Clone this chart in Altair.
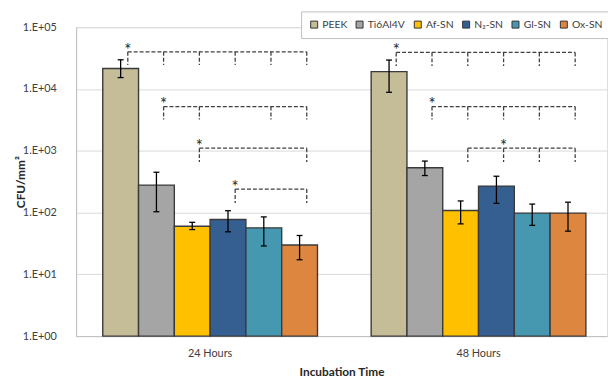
import altair as alt
import pandas as pd

# ---------------- data ----------------
groups = ["24 Hours", "48 Hours"]
series = ["PEEK", "Ti6Al4V", "Af-SN", "N₂-SN", "Gl-SN", "Ox-SN"]
colors = ["#C4BD97", "#A5A5A5", "#FFC000", "#365F91", "#4598B0", "#DD8640"]

mean_24 = [21500, 278, 60, 77, 56.5, 29.8]
low_24 = [15300, 103, 53, 48.8, 28.8, 17.2]
high_24 = [29700, 449, 69.5, 107, 85, 42.5]

mean_48 = [19100, 532, 108, 268, 98, 98]
low_48 = [8840, 397, 65.5, 141, 62, 50]
high_48 = [29400, 681, 154, 387, 137, 147]

# significance brackets
br_group = ["24 Hours", "24 Hours", "24 Hours", "24 Hours", "48 Hours", "48 Hours", "48 Hours"]
br_top = [40000, 5200, 1100, 240, 39000, 5200, 1100]
br_bottom = [24500, 3200, 660, 143, 23500, 3200, 660]
br_members = [
    ["PEEK", "Ti6Al4V", "Af-SN", "N₂-SN", "Gl-SN", "Ox-SN"],
    ["Ti6Al4V", "Af-SN", "Gl-SN", "Ox-SN"],
    ["Af-SN", "Ox-SN"],
    ["N₂-SN", "Ox-SN"],
    ["PEEK", "Ti6Al4V", "Af-SN", "N₂-SN", "Gl-SN", "Ox-SN"],
    ["Ti6Al4V", "Af-SN", "N₂-SN", "Gl-SN", "Ox-SN"],
    ["Af-SN", "N₂-SN", "Gl-SN", "Ox-SN"],
]
br_star = ["PEEK", "Ti6Al4V", "Af-SN", "N₂-SN", "PEEK", "Ti6Al4V", "N₂-SN"]

# ---------------- layout constants ----------------
W, H = 538, 313
PAD_INNER, PAD_OUTER, ALIGN = 0.2, 0.089, 0.558
STEP = W / (len(groups) - PAD_INNER + 2 * PAD_OUTER)
START = (W - STEP * (len(groups) - PAD_INNER)) * ALIGN
BAR = STEP * (1 - PAD_INNER) / len(series)
SHIFT = 0.2  # bracket ticks sit slightly right of bar centre
CAP = 3
FONT = "Lato"

# ---------------- tables ----------------
rows = []
for gi, (g, m, lo, hi) in enumerate([(groups[0], mean_24, low_24, high_24),
                                      (groups[1], mean_48, low_48, high_48)]):
    for si, (s, mv, l, h) in enumerate(zip(series, m, lo, hi)):
        rows.append({"group": g, "series": s, "gi": gi, "si": si,
                     "value": mv, "low": l, "high": h, "base": 1})
bars_df = pd.DataFrame(rows)
caps_df = pd.concat([
    bars_df[["gi", "si", "low"]].rename(columns={"low": "cap"}),
    bars_df[["gi", "si", "high"]].rename(columns={"high": "cap"}),
])

h_rows, v_rows, s_rows = [], [], []
for g, top, bot, mem, star in zip(br_group, br_top, br_bottom, br_members, br_star):
    gi = groups.index(g)
    h_rows.append({"gi": gi, "si": series.index(mem[0]), "si2": series.index(mem[-1]), "top": top})
    for m in mem:
        v_rows.append({"gi": gi, "si": series.index(m), "top": top, "bottom": bot})
    s_rows.append({"gi": gi, "si": series.index(star), "top": top, "txt": "*"})
h_df, v_df, s_df = pd.DataFrame(h_rows), pd.DataFrame(v_rows), pd.DataFrame(s_rows)

ctr_expr = f"{START} + datum.gi*{STEP} + (datum.si + 0.5)*{BAR}"
pos_expr = f"{START} + datum.gi*{STEP} + (datum.si + 0.5 + {SHIFT})*{BAR}"
pos2_expr = f"{START} + datum.gi*{STEP} + (datum.si2 + 0.5 + {SHIFT})*{BAR}"

yscale = alt.Scale(type="log", domain=[1, 100000], nice=False)
xq = alt.Scale(domain=[0, W], nice=False, zero=False)
xband = alt.Scale(domain=groups, paddingInner=PAD_INNER, paddingOuter=PAD_OUTER, align=ALIGN)

bars = alt.Chart(bars_df).mark_bar(stroke="#3a3a3a", strokeWidth=1.4).encode(
    x=alt.X("group:N", scale=xband, sort=groups, title="Incubation Time",
            axis=alt.Axis(labelAngle=0, ticks=False, domainColor="#bfbfbf", labelColor="#404040",
                          labelFontSize=11, labelPadding=12, titleFontSize=12,
                          titleFontWeight="bold", titleColor="#262626", titlePadding=8)),
    xOffset=alt.XOffset("series:N", sort=series, scale=alt.Scale(domain=series)),
    y=alt.Y("value:Q", scale=yscale, title="CFU/mm²",
            axis=alt.Axis(values=[1, 10, 100, 1000, 10000, 100000],
                          labelExpr="'1.E+0' + round(log(datum.value)/LN10)",
                          ticks=False, gridColor="#d9d9d9", domainColor="#bfbfbf",
                          labelColor="#404040", labelFontSize=11, labelPadding=20,
                          titleFontSize=12, titleFontWeight="bold", titleColor="#262626",
                          titleX=-56, titleY=H / 2, titleBaseline="middle", titleAngle=270)),
    y2="base:Q",
    color=alt.Color("series:N", sort=series, scale=alt.Scale(domain=series, range=colors),
                    legend=alt.Legend(title=None, orient="none", direction="horizontal",
                                      legendX=228, legendY=-16, symbolType="square",
                                      symbolSize=50, symbolStrokeColor="#333333",
                                      symbolStrokeWidth=1, labelFontSize=10.5,
                                      labelColor="#404040", labelOffset=3, columnPadding=6,
                                      strokeColor="#bfbfbf", fillColor="white", padding=8)),
)

err = alt.Chart(bars_df).transform_calculate(px=ctr_expr).mark_rule(
    color="black", strokeWidth=1.3).encode(
    x=alt.X("px:Q", scale=xq, axis=None),
    y=alt.Y("low:Q", scale=yscale),
    y2="high:Q",
)
caps = alt.Chart(caps_df).transform_calculate(
    pa=f"{ctr_expr} - {CAP}", pb=f"{ctr_expr} + {CAP}").mark_rule(
    color="black", strokeWidth=1.3).encode(
    x=alt.X("pa:Q", scale=xq, axis=None),
    x2="pb:Q",
    y=alt.Y("cap:Q", scale=yscale),
)

dash = [4, 2]
hlines = alt.Chart(h_df).transform_calculate(px=pos_expr, px2=pos2_expr).mark_rule(
    color="#404040", strokeWidth=1.3, strokeDash=dash).encode(
    x=alt.X("px:Q", scale=xq, axis=None),
    x2="px2:Q",
    y=alt.Y("top:Q", scale=yscale),
)
vlines = alt.Chart(v_df).transform_calculate(px=pos_expr).mark_rule(
    color="#404040", strokeWidth=1.3, strokeDash=dash).encode(
    x=alt.X("px:Q", scale=xq, axis=None),
    y=alt.Y("top:Q", scale=yscale),
    y2="bottom:Q",
)
stars = alt.Chart(s_df).transform_calculate(px=pos_expr).mark_text(
    font=FONT, fontSize=17, color="#262626", baseline="alphabetic", dy=4).encode(
    x=alt.X("px:Q", scale=xq, axis=None),
    y=alt.Y("top:Q", scale=yscale),
    text="txt:N",
)

chart = alt.layer(bars, err, caps, hlines, vlines, stars).resolve_scale(x="independent").properties(
    width=W, height=H,
    autosize=alt.AutoSizeParams(type="none"),
    padding={"left": 69, "top": 17, "right": 1, "bottom": 40},
).configure_view(stroke=None).configure(font=FONT)

chart.save("out.html", embed_options={"renderer": "svg", "actions": False})
